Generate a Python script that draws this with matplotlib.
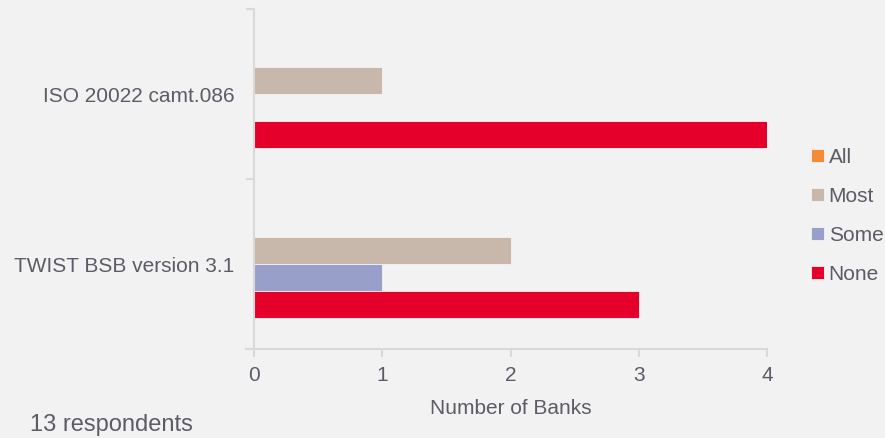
import matplotlib
matplotlib.use("Agg")
import matplotlib.pyplot as plt
import numpy as np

categories = ["ISO 20022 camt.086", "TWIST BSB version 3.1"]
series = ["All", "Most", "Some", "None"]
values = {
    "All": [0, 0],
    "Most": [1, 2],
    "Some": [0, 1],
    "None": [4, 3],
}
colors = {"All": "#f58b35", "Most": "#c8b8ac", "Some": "#98a0ca", "None": "#e4002b"}
xticks = [0, 1, 2, 3, 4]

plt.rcParams['font.family'] = ['Liberation Sans', 'DejaVu Sans']
txt = '#5c5c66'
bg = '#f2f2f2'
grid = '#d9d9d9'

fig = plt.figure(figsize=(8.85, 4.38), dpi=100, facecolor=bg)
ax = fig.add_axes([254/885, 1-349/438, (767-254)/885, (349-9)/438], facecolor=bg)

h = 0.159
y = np.arange(len(categories))
for i, s in enumerate(series):
    off = (i - 1.5) * h
    ax.barh(y + off, values[s], height=h, color=colors[s], label=s,
            edgecolor='#f4f4f4', linewidth=0.6)

ax.set_ylim(1.5, -0.5)
ax.set_xlim(0, 4)
ax.set_yticks(y)
ax.set_yticklabels(categories, fontsize=15, color=txt)
ax.tick_params(axis='y', length=0, pad=14)
ax.set_yticks([-0.5, 0.5, 1.5], minor=True)
ax.tick_params(axis='y', which='minor', length=6, width=1.5, color=grid)
ax.set_xticks(xticks)
ax.set_xticklabels([str(t) for t in xticks], fontsize=15, color=txt)
ax.tick_params(axis='x', length=6, width=1.5, color=grid, pad=6)
for sp in ['top', 'right']:
    ax.spines[sp].set_visible(False)
for sp in ['left', 'bottom']:
    ax.spines[sp].set_color(grid)
    ax.spines[sp].set_linewidth(1.5)
ax.spines['bottom'].set_bounds(-0.065, 4)
ax.set_xlabel("Number of Banks", fontsize=15, color=txt, labelpad=10)

leg = ax.legend(frameon=False, loc='center left', bbox_to_anchor=(811/885, 1-216/438),
                bbox_transform=fig.transFigure, fontsize=15, handlelength=0.6,
                handleheight=0.6, handletextpad=0.25, labelspacing=0.96,
                borderaxespad=0, borderpad=0)
for t in leg.get_texts():
    t.set_color(txt)

fig.text(30/885, 1-425/438, "13 respondents", fontsize=17, color=txt, va='center', ha='left')

fig.savefig("out.png", dpi=100, facecolor=bg)
